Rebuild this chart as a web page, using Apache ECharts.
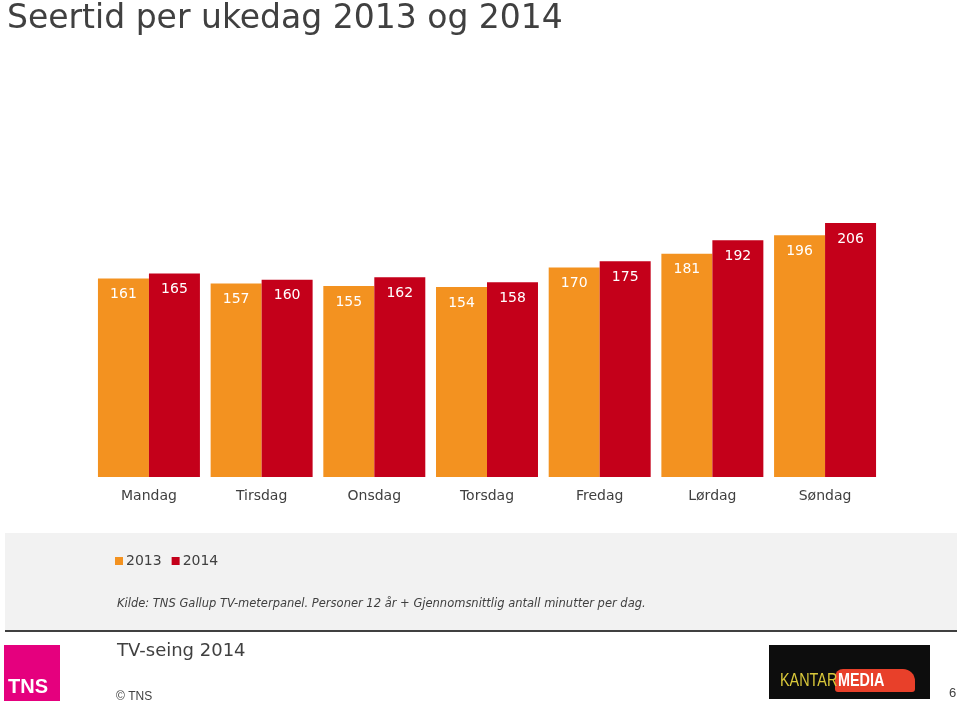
<!DOCTYPE html>
<html><head><meta charset="utf-8">
<script src="https://cdn.jsdelivr.net/npm/echarts@6/dist/echarts.min.js"></script>
<style>html,body{margin:0;padding:0;background:#fff}#c{width:960px;height:705px}</style>
</head><body><div id="c"></div>
<script>
const categories = ['Mandag','Tirsdag','Onsdag','Torsdag','Fredag','Lørdag','Søndag'];
const series2013 = [161,157,155,154,170,181,196];
const series2014 = [165,160,162,158,175,192,206];
const seriesNames = ['2013','2014'];
const titleText = 'Seertid per ukedag 2013 og 2014';
const sourceText = 'Kilde: TNS Gallup TV-meterpanel. Personer 12 år + Gjennomsnittlig antall minutter per dag.';

const FONT = '"DejaVu Sans", Verdana, sans-serif';
const TXT = '#404040';
const chart = echarts.init(document.getElementById('c'));
const lbl = {show:true, position:'insideTop', distance:9, color:'#fff', fontSize:14, fontFamily:FONT};
chart.setOption({
  animation:false,
  title:{text:titleText, left:7, top:1, padding:0, textStyle:{fontSize:33, lineHeight:36, fontWeight:'normal', color:TXT, fontFamily:FONT}},
  grid:{left:92.6, right:78.6, top:223, bottom:228, containLabel:false},
  legend:{data:seriesNames, left:110, top:549, itemWidth:8, itemHeight:8, itemGap:10, icon:'rect',
    textStyle:{fontSize:14, color:TXT, fontFamily:FONT, padding:[0,0,0,-2]}},
  xAxis:{type:'category', data:categories, axisLine:{show:false}, axisTick:{show:false},
    axisLabel:{color:TXT, fontSize:14, fontFamily:FONT, margin:12}},
  yAxis:{type:'value', min:0, max:'dataMax', show:false, splitLine:{show:false}},
  series:[
    {name:seriesNames[0], type:'bar', data:series2013, barGap:'0%', barCategoryGap:'9.5%', itemStyle:{color:'#F39220'}, label:lbl},
    {name:seriesNames[1], type:'bar', data:series2014, itemStyle:{color:'#C4001A'}, label:lbl}
  ],
  graphic:[
    {type:'rect', z:-1, shape:{x:5, y:533, width:952, height:97}, style:{fill:'#f2f2f2'}},
    {type:'text', left:117, top:598, style:{text:sourceText, font:'italic 11.5px '+FONT, fill:TXT}},
    {type:'line', shape:{x1:5, y1:631, x2:957, y2:631}, style:{stroke:'#404040', lineWidth:2}},
    {type:'rect', shape:{x:4, y:645, width:56, height:56}, style:{fill:'#E5007E'}},
    {type:'text', left:8, top:677, style:{text:'TNS', font:'bold 20px "Liberation Sans", Arial, sans-serif', fill:'#fff'}},
    {type:'text', left:117, top:642, style:{text:'TV-seing 2014', font:'18px '+FONT, fill:TXT}},
    {type:'text', left:116, top:691, style:{text:'© TNS', font:'12px "Liberation Sans", Arial, sans-serif', fill:TXT}},
    {type:'rect', shape:{x:769, y:645, width:161, height:54}, style:{fill:'#0d0d0d'}},
    {type:'rect', shape:{x:835, y:669, width:80, height:23, r:[8,12,3,3]}, style:{fill:'#E8402A'}},
    {type:'text', x:780, y:672, scaleX:0.8, style:{text:'KANTAR', font:'18px "Liberation Sans", Arial, sans-serif', fill:'#D9C83A'}},
    {type:'text', x:838, y:672, scaleX:0.8, style:{text:'MEDIA', font:'bold 18px "Liberation Sans", Arial, sans-serif', fill:'#fff'}},
    {type:'text', left:949, top:687, style:{text:'6', font:'13px "Liberation Sans", Arial, sans-serif', fill:TXT}}
  ]
});
</script></body></html>
